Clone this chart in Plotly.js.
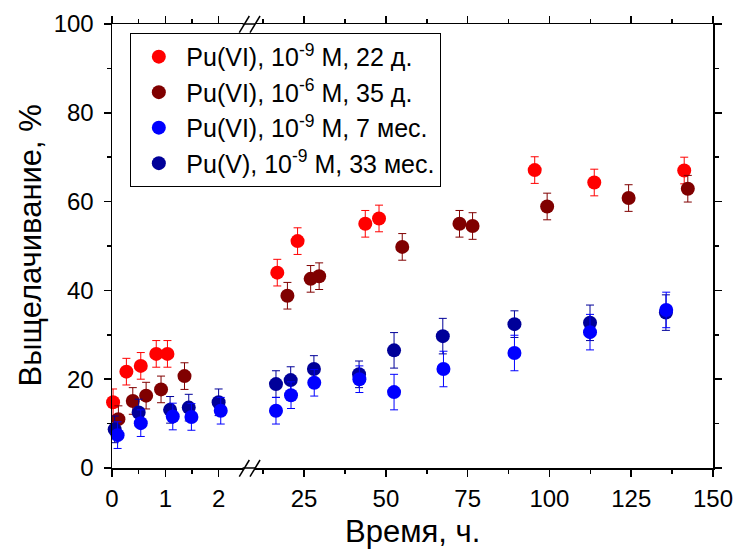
<!DOCTYPE html>
<html>
<head>
<meta charset="utf-8">
<script src="https://cdn.plot.ly/plotly-3.0.1.min.js"></script>
<style>html,body{margin:0;padding:0;background:#fff;}#chart{width:737px;height:551px;}</style>
</head>
<body>
<div id="chart"></div>
<script>
// Series data: time (hours), leaching (%), error (%)
const seriesNames = [
  "Pu(VI), 10<sup>-9</sup> M, 22 д.",
  "Pu(VI), 10<sup>-6</sup> M, 35 д.",
  "Pu(VI), 10<sup>-9</sup> M, 7 мес.",
  "Pu(V), 10<sup>-9</sup> M, 33 мес."
];
const seriesColors = ["#ff0000", "#800000", "#0000ff", "#000099"];

const redTime = [0.02, 0.27, 0.54, 0.83, 1.04, 16.8, 23.0, 43.7, 47.9, 95.5, 113.7, 141.2];
const redVal  = [14.8, 21.7, 23.0, 25.7, 25.7, 44.0, 51.1, 55.0, 56.2, 67.1, 64.3, 67.0];
const redErr  = [3, 3, 3, 3, 3, 3, 3, 3, 3, 3, 3, 3];

const darkRedTime = [0.12, 0.39, 0.64, 0.92, 1.36, 19.9, 27.0, 29.6, 55.0, 72.5, 76.5, 99.3, 124.2, 142.3];
const darkRedVal  = [11.0, 15.1, 16.3, 17.7, 20.7, 38.8, 42.6, 43.2, 49.8, 55.0, 54.5, 58.9, 60.8, 62.9];
const darkRedErr  = [3, 3, 3, 3, 3, 3, 3, 3, 3, 3, 3, 3, 3, 3];

const blueTime = [0.105, 0.54, 1.14, 1.49, 2.04, 16.4, 21.0, 28.1, 41.9, 52.5, 67.6, 89.3, 112.4, 135.7];
const blueVal  = [7.4, 10.1, 11.6, 11.5, 12.9, 12.9, 16.4, 19.2, 20.0, 17.1, 22.3, 25.9, 30.6, 35.6];
const blueErr  = [3, 3, 3, 3, 3, 3, 3, 3, 3, 4, 4, 4, 4, 4];

const navyTime = [0.05, 0.5, 1.09, 1.44, 2.0, 16.4, 20.9, 28.0, 41.8, 52.5, 67.4, 89.3, 112.4, 135.6];
const navyVal  = [8.7, 12.5, 13.1, 13.6, 14.8, 18.9, 19.8, 22.3, 21.1, 26.5, 29.7, 32.4, 32.7, 35.0];
const navyErr  = [3, 3, 3, 3, 3, 3, 3, 3, 3, 4, 4, 3, 4, 4];

const xLeftTicks = [0, 1, 2];
const xRightTicks = [25, 50, 75, 100, 125, 150];
const yTicks = [0, 20, 40, 60, 80, 100];

const BREAK = 5; // hours: split between left and right axis segments

const FONT = "Liberation Sans, Arial, sans-serif";
const allSeries = [
  {t: redTime, v: redVal, e: redErr, idx: 0},
  {t: darkRedTime, v: darkRedVal, e: darkRedErr, idx: 1},
  {t: navyTime, v: navyVal, e: navyErr, idx: 3},
  {t: blueTime, v: blueVal, e: blueErr, idx: 2}
];

const traces = [];
allSeries.forEach(s => {
  const parts = [
    {filter: t => t < BREAK, xaxis: "x", legend: true},
    {filter: t => t >= BREAK, xaxis: "x2", legend: false}
  ];
  parts.forEach(p => {
    const xs = [], ys = [], es = [];
    s.t.forEach((t, i) => { if (p.filter(t)) { xs.push(t); ys.push(s.v[i]); es.push(s.e[i]); } });
    traces.push({
      type: "scatter", mode: "markers",
      x: xs, y: ys, xaxis: p.xaxis, yaxis: "y",
      name: seriesNames[s.idx],
      legendgroup: "g" + s.idx,
      legendrank: s.idx + 1,
      showlegend: p.legend,
      marker: {color: seriesColors[s.idx], size: 14, line: {width: 0}},
      error_y: {type: "data", array: es, visible: true, color: seriesColors[s.idx], thickness: 1, width: 4},
      cliponaxis: false
    });
  });
});

const tickFont = {family: FONT, size: 24, color: "#000"};
const axisCommon = {
  ticks: "outside", ticklen: 7, tickwidth: 1.5, tickcolor: "#000",
  showline: true, linecolor: "#000", linewidth: 1.5,
  showgrid: false, zeroline: false, tickfont: tickFont
};

const L_END = 0.2173, R_START = 0.238;

const layout = {
  width: 737, height: 551,
  margin: {l: 112, r: 24, t: 24, b: 83},
  paper_bgcolor: "#fff", plot_bgcolor: "#fff",
  font: {family: FONT, color: "#000"},
  showlegend: true,
  legend: {
    x: 0.0305, y: 0.98, xanchor: "left", yanchor: "top",
    bgcolor: "#fff", bordercolor: "#000", borderwidth: 1,
    font: {family: FONT, size: 25, color: "#000"},
    itemwidth: 45,
    traceorder: "normal"
  },
  xaxis: Object.assign({}, axisCommon, {
    domain: [0, L_END], range: [0, 2.45], anchor: "y",
    tickmode: "array", tickvals: xLeftTicks, ticktext: xLeftTicks.map(String),
    mirror: "ticks", ticklabelstandoff: 2,
    minor: {dtick: 0.5, tick0: 0, ticks: "outside", ticklen: 4, tickwidth: 1.5, tickcolor: "#000"}
  }),
  xaxis2: Object.assign({}, axisCommon, {
    domain: [R_START, 1], range: [10, 150], anchor: "y",
    tickmode: "array", tickvals: xRightTicks, ticktext: xRightTicks.map(String),
    mirror: "ticks", ticklabelstandoff: 2,
    minor: {dtick: 12.5, tick0: 0, ticks: "outside", ticklen: 4, tickwidth: 1.5, tickcolor: "#000"}
  }),
  yaxis: Object.assign({}, axisCommon, {
    domain: [0, 1], range: [0, 100], anchor: "x",
    tickmode: "array", tickvals: yTicks, ticktext: yTicks.map(String),
    ticklabelstandoff: 5,
    minor: {dtick: 10, tick0: 0, ticks: "outside", ticklen: 4, tickwidth: 1.5, tickcolor: "#000"}
  }),
  yaxis2: Object.assign({}, axisCommon, {
    domain: [0, 1], range: [0, 100], anchor: "x2", overlaying: "y", side: "right",
    tickmode: "array", tickvals: yTicks, showticklabels: false,
    minor: {dtick: 10, tick0: 0, ticks: "outside", ticklen: 4, tickwidth: 1.5, tickcolor: "#000"}
  }),
  annotations: [
    {text: "Время, ч.", xref: "paper", yref: "paper", x: 0.5, y: -0.144,
     xanchor: "center", yanchor: "middle", showarrow: false,
     font: {family: FONT, size: 31, color: "#000"}},
    {text: "Выщелачивание, %", xref: "paper", yref: "paper", x: -0.136, y: 0.502,
     xanchor: "center", yanchor: "middle", textangle: -90, showarrow: false,
     font: {family: FONT, size: 31, color: "#000"}}
  ],
  shapes: [
    {type: "line", xref: "paper", yref: "paper", x0: L_END, x1: R_START, y0: 0, y1: 0, line: {color: "#000", width: 1.5}},
    {type: "line", xref: "paper", yref: "paper", x0: L_END, x1: R_START, y0: 1, y1: 1, line: {color: "#000", width: 1.5}},
    {type: "line", xref: "paper", yref: "paper", x0: 0.2118, x1: 0.2285, y0: -0.0196, y1: 0.018, line: {color: "#000", width: 1.5}},
    {type: "line", xref: "paper", yref: "paper", x0: 0.2296, x1: 0.2463, y0: -0.0196, y1: 0.018, line: {color: "#000", width: 1.5}},
    {type: "line", xref: "paper", yref: "paper", x0: 0.2118, x1: 0.2285, y0: 0.9804, y1: 1.018, line: {color: "#000", width: 1.5}},
    {type: "line", xref: "paper", yref: "paper", x0: 0.2296, x1: 0.2463, y0: 0.9804, y1: 1.018, line: {color: "#000", width: 1.5}}
  ]
};

traces.push({type: "scatter", mode: "markers", x: [], y: [], xaxis: "x2", yaxis: "y2", showlegend: false, hoverinfo: "skip"});

Plotly.newPlot("chart", traces, layout, {displayModeBar: false, staticPlot: true});
</script>
</body>
</html>
